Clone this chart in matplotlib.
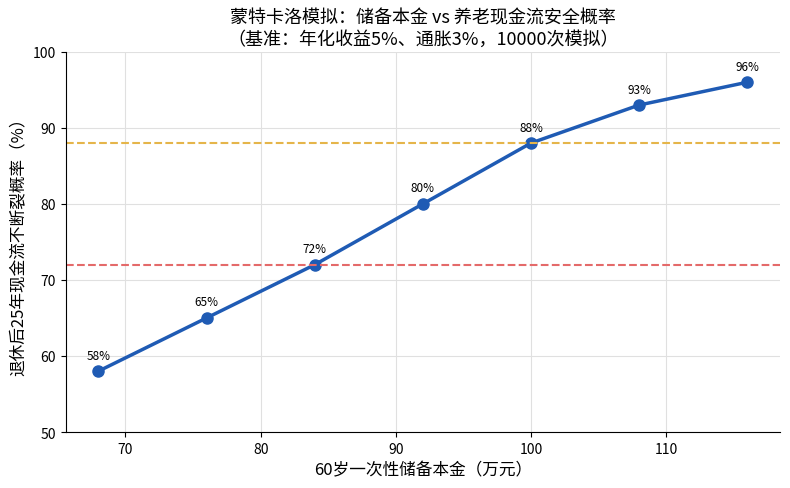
import matplotlib
matplotlib.use("Agg")
import matplotlib.pyplot as plt

plt.rcParams['font.family'] = ['Noto Sans CJK SC', 'DejaVu Sans']
plt.rcParams['axes.unicode_minus'] = False

# data
reserve = [68, 76, 84, 92, 100, 108, 116]
prob = [58, 65, 72, 80, 88, 93, 96]
line_high = 88
line_low = 72

fig, ax = plt.subplots(figsize=(7.9, 4.89), dpi=100)

ax.plot(reserve, prob, marker="o", color="#1f5bb4", linewidth=2.5, markersize=8)
for x, y in zip(reserve, prob):
    ax.annotate(f"{y}%", (x, y), textcoords="offset points", xytext=(0, 9),
                ha="center", fontsize=8.5)

ax.axhline(line_high, color="#e5b54a", linestyle="--", linewidth=1.5)
ax.axhline(line_low, color="#e46a6a", linestyle="--", linewidth=1.5)

ax.set_ylim(50, 100)
ax.set_xlabel("60岁一次性储备本金（万元）", fontsize=12)
ax.set_ylabel("退休后25年现金流不断裂概率（%）", fontsize=12)
ax.set_title("蒙特卡洛模拟：储备本金 vs 养老现金流安全概率\n（基准：年化收益5%、通胀3%，10000次模拟）",
             fontsize=13)
ax.grid(True, color="#e0e0e0", linewidth=0.8)
ax.set_axisbelow(True)
ax.spines["top"].set_visible(False)
ax.spines["right"].set_visible(False)

fig.subplots_adjust(left=0.0835, right=0.987, top=0.892, bottom=0.1145)
plt.savefig("out.png", dpi=100)
